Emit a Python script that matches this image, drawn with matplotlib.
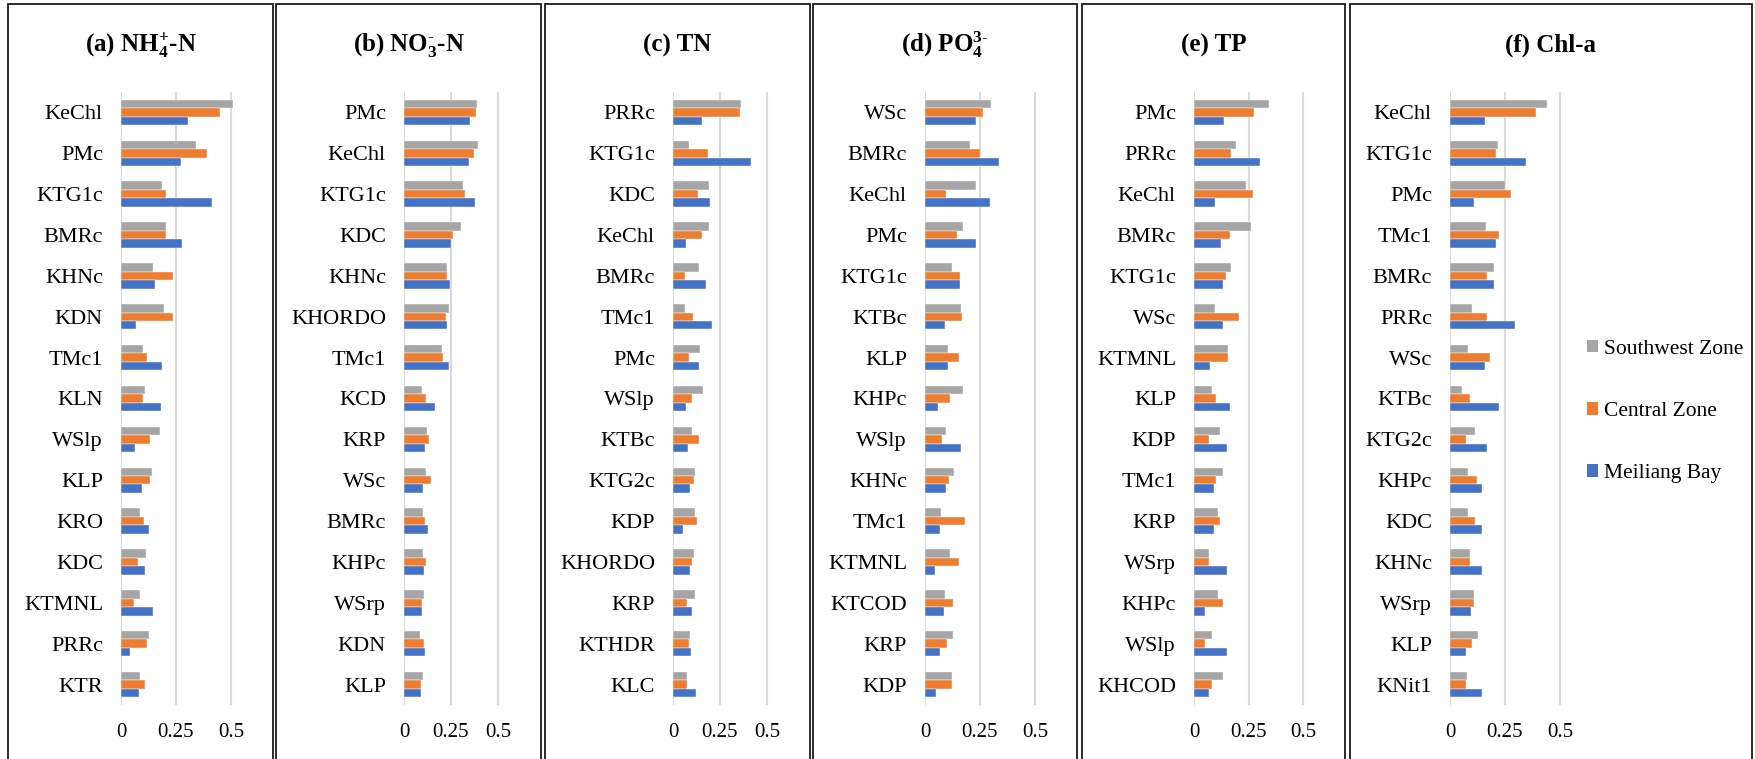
import matplotlib.pyplot as plt
from matplotlib.patches import Rectangle, Patch
import numpy as np

plt.rcParams['font.family'] = ['Liberation Serif', 'DejaVu Serif']
plt.rcParams['mathtext.fontset'] = 'custom'
plt.rcParams['mathtext.rm'] = 'Liberation Serif'
plt.rcParams['mathtext.bf'] = 'Liberation Serif:bold'
plt.rcParams['mathtext.default'] = 'bf'

series_names = ['Southwest Zone', 'Central Zone', 'Meiliang Bay']
colors = ['#A5A5A5', '#ED7D31', '#4472C4']

# (a) NH4+-N
labels_a = ['KeChl', 'PMc', 'KTG1c', 'BMRc', 'KHNc', 'KDN', 'TMc1', 'KLN',
            'WSlp', 'KLP', 'KRO', 'KDC', 'KTMNL', 'PRRc', 'KTR']
sw_a = [0.509, 0.342, 0.185, 0.205, 0.145, 0.195, 0.098, 0.109, 0.179, 0.142, 0.085, 0.114, 0.088, 0.127, 0.088]
cz_a = [0.450, 0.391, 0.205, 0.205, 0.236, 0.235, 0.118, 0.100, 0.130, 0.133, 0.105, 0.079, 0.060, 0.117, 0.109]
mb_a = [0.305, 0.271, 0.414, 0.279, 0.153, 0.070, 0.185, 0.183, 0.064, 0.095, 0.127, 0.110, 0.144, 0.041, 0.080]

# (b) NO3--N
labels_b = ['PMc', 'KeChl', 'KTG1c', 'KDC', 'KHNc', 'KHORDO', 'TMc1', 'KCD',
            'KRP', 'WSc', 'BMRc', 'KHPc', 'WSrp', 'KDN', 'KLP']
sw_b = [0.389, 0.392, 0.314, 0.304, 0.231, 0.237, 0.200, 0.097, 0.122, 0.118, 0.099, 0.102, 0.108, 0.083, 0.099]
cz_b = [0.382, 0.373, 0.322, 0.260, 0.231, 0.221, 0.208, 0.117, 0.131, 0.145, 0.110, 0.118, 0.097, 0.106, 0.088]
mb_b = [0.353, 0.345, 0.380, 0.249, 0.246, 0.231, 0.237, 0.166, 0.111, 0.099, 0.129, 0.106, 0.094, 0.110, 0.092]

# (c) TN
labels_c = ['PRRc', 'KTG1c', 'KDC', 'KeChl', 'BMRc', 'TMc1', 'PMc', 'WSlp',
            'KTBc', 'KTG2c', 'KDP', 'KHORDO', 'KRP', 'KTHDR', 'KLC']
sw_c = [0.362, 0.087, 0.194, 0.193, 0.136, 0.065, 0.143, 0.157, 0.099, 0.115, 0.117, 0.110, 0.117, 0.090, 0.074]
cz_c = [0.359, 0.186, 0.131, 0.154, 0.065, 0.104, 0.083, 0.101, 0.138, 0.110, 0.127, 0.101, 0.076, 0.087, 0.074]
mb_c = [0.152, 0.415, 0.198, 0.067, 0.178, 0.207, 0.140, 0.069, 0.080, 0.090, 0.055, 0.088, 0.101, 0.094, 0.120]

# (d) PO4 3-
labels_d = ['WSc', 'BMRc', 'KeChl', 'PMc', 'KTG1c', 'KTBc', 'KLP', 'KHPc',
            'WSlp', 'KHNc', 'TMc1', 'KTMNL', 'KTCOD', 'KRP', 'KDP']
sw_d = [0.298, 0.204, 0.231, 0.172, 0.121, 0.162, 0.104, 0.174, 0.097, 0.130, 0.073, 0.113, 0.089, 0.128, 0.122]
cz_d = [0.263, 0.248, 0.095, 0.147, 0.157, 0.169, 0.153, 0.112, 0.079, 0.110, 0.183, 0.156, 0.128, 0.098, 0.121]
mb_d = [0.233, 0.337, 0.295, 0.233, 0.159, 0.089, 0.104, 0.060, 0.165, 0.094, 0.066, 0.044, 0.086, 0.068, 0.051]

# (e) TP
labels_e = ['PMc', 'PRRc', 'KeChl', 'BMRc', 'KTG1c', 'WSc', 'KTMNL', 'KLP',
            'KDP', 'TMc1', 'KRP', 'WSrp', 'KHPc', 'WSlp', 'KHCOD']
sw_e = [0.342, 0.191, 0.240, 0.261, 0.169, 0.097, 0.157, 0.082, 0.117, 0.131, 0.109, 0.071, 0.108, 0.082, 0.131]
cz_e = [0.277, 0.169, 0.271, 0.164, 0.146, 0.208, 0.155, 0.103, 0.067, 0.099, 0.117, 0.068, 0.132, 0.052, 0.082]
mb_e = [0.137, 0.302, 0.097, 0.123, 0.131, 0.131, 0.073, 0.163, 0.152, 0.091, 0.091, 0.153, 0.052, 0.150, 0.070]

# (f) Chl-a
labels_f = ['KeChl', 'KTG1c', 'PMc', 'TMc1', 'BMRc', 'PRRc', 'WSc', 'KTBc',
            'KTG2c', 'KHPc', 'KDC', 'KHNc', 'WSrp', 'KLP', 'KNit1']
sw_f = [0.440, 0.218, 0.248, 0.163, 0.202, 0.100, 0.082, 0.056, 0.112, 0.080, 0.083, 0.089, 0.110, 0.128, 0.077]
cz_f = [0.391, 0.211, 0.276, 0.222, 0.166, 0.166, 0.181, 0.092, 0.073, 0.122, 0.113, 0.089, 0.110, 0.098, 0.073]
mb_f = [0.160, 0.347, 0.109, 0.211, 0.199, 0.296, 0.159, 0.224, 0.168, 0.145, 0.147, 0.145, 0.094, 0.071, 0.147]

titles = [r'(a) NH$_{4}^{+}$-N', r'(b) NO$_{3}^{\text{-}}$-N', '(c) TN',
          r'(d) PO$_{4}^{3\text{-}}$', '(e) TP', '(f) Chl-a']
panels = [(labels_a, sw_a, cz_a, mb_a), (labels_b, sw_b, cz_b, mb_b),
          (labels_c, sw_c, cz_c, mb_c), (labels_d, sw_d, cz_d, mb_d),
          (labels_e, sw_e, cz_e, mb_e), (labels_f, sw_f, cz_f, mb_f)]

W, H = 1756, 759
fig = plt.figure(figsize=(W / 100, H / 100), dpi=100)

# panel frames (pixels): left, right
frames = [(8, 273), (276, 541), (545, 810), (813, 1077), (1082, 1345), (1350, 1752)]
# x of the zero line and pixel length of 0..0.5
axes_x = [(121, 110), (404, 94), (673, 94), (925, 110), (1194, 109), (1450, 110)]
ax_top, ax_bot = 92, 705
xmax = 0.56

for (fx0, fx1) in frames:
    fig.patches.append(Rectangle((fx0 / W, -0.05), (fx1 - fx0) / W, (H - 4) / H + 0.05,
                                 transform=fig.transFigure, fill=False,
                                 edgecolor='#1a1a1a', linewidth=1.3))

bh = 0.207
for i, (labels, sw, cz, mb) in enumerate(panels):
    x0, w05 = axes_x[i]
    ax = fig.add_axes([x0 / W, 1 - ax_bot / H, w05 / 0.5 * xmax / W, (ax_bot - ax_top) / H])
    y = np.arange(len(labels))
    for k, vals in enumerate([sw, cz, mb]):
        ax.barh(y + (k - 1) * bh, vals, height=bh, color=colors[k],
                edgecolor='white', linewidth=0.3, zorder=3)
    ax.set_xlim(0, xmax)
    ax.set_ylim(len(labels) - 0.5, -0.5)
    ax.set_yticks(y)
    ax.set_yticklabels(labels, fontsize=16)
    ax.set_xticks([0, 0.25, 0.5])
    ax.set_xticklabels(['0', '0.25', '0.5'], fontsize=15)
    ax.tick_params(length=0)
    ax.tick_params(axis='y', pad=13)
    ax.tick_params(axis='x', pad=13)
    for xv in [0, 0.25, 0.5]:
        ax.axvline(xv, color='#D9D9D9', linewidth=1.5, zorder=1)
    for s in ax.spines.values():
        s.set_visible(False)
    fig.text((frames[i][0] + frames[i][1]) / 2 / W, 1 - 45 / H, titles[i],
             ha='center', va='center', fontsize=18, fontweight='bold')

handles = [Patch(facecolor=c, edgecolor='none') for c in colors]
fig.legend(handles, series_names, loc='upper left',
           bbox_to_anchor=(1587 / W, 1 - 340 / H), frameon=False, fontsize=15.5,
           handlelength=0.5, handleheight=0.5, handletextpad=0.3,
           labelspacing=2.0, borderpad=0, borderaxespad=0)

fig.savefig('out.png', dpi=100)
